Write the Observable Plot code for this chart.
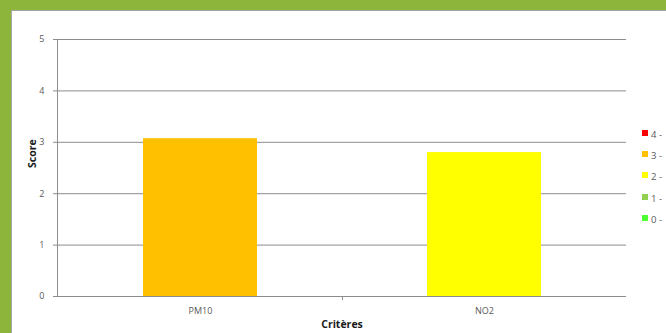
<!DOCTYPE html>
<html>
<head>
<meta charset="utf-8">
<script src="https://cdn.jsdelivr.net/npm/d3@7"></script>
<script src="https://cdn.jsdelivr.net/npm/@observablehq/plot@0.6"></script>
<style>
  html, body { margin: 0; padding: 0; }
  body { width: 666px; height: 333px; background: #8DB53C; position: relative; overflow: hidden; font-family: "Open Sans", "Liberation Sans", sans-serif; }
  #frame { position: absolute; left: 11px; top: 10px; width: 700px; height: 340px; background: #fff; border-left: 1px solid #a6a6a6; border-top: 1px solid #a6a6a6; }
  #chart { position: absolute; left: 0; top: 0; }
  #legend { position: absolute; left: 642px; top: 128px; font-size: 9.5px; color: #595959; }
  .item { height: 21.2px; display: flex; align-items: flex-start; white-space: nowrap; }
  .sw { width: 6px; height: 6px; margin-top: 2px; margin-right: 3px; }
</style>
</head>
<body>
<div id="frame"></div>
<div id="chart"></div>
<div id="legend"></div>
<script>
const categories = ["PM10", "NO2"];
const scores = [3.07, 2.80];
const yTicks = [0, 1, 2, 3, 4, 5];
const legendLabels = ["4 -", "3 -", "2 -", "1 -", "0 -"];
const legendLevels = [4, 3, 2, 1, 0];
const legendColors = ["#FF0000", "#FFC000", "#FFFF00", "#92D050", "#4CFF33"];

const data = categories.map((c, i) => ({ cat: c, score: scores[i], level: Math.floor(scores[i]) }));
const colorOf = lv => legendColors[legendLevels.indexOf(lv)];

const plot = Plot.plot({
  width: 666,
  height: 333,
  marginLeft: 57,
  marginRight: 40,
  marginTop: 39,
  marginBottom: 37,
  style: { background: "transparent", fontFamily: "'Open Sans', 'Liberation Sans', sans-serif", fontSize: "9px", color: "#595959" },
  x: { domain: categories, paddingInner: 0.6, paddingOuter: 0.3, label: null },
  y: { domain: [0, 5], ticks: yTicks, label: null },
  marks: [
    Plot.gridY(yTicks.filter(t => t > 0), { stroke: "#8c8c8c", strokeOpacity: 1, strokeWidth: 1 }),
    Plot.barY(data, { x: "cat", y: "score", fill: d => colorOf(d.level) }),
    Plot.frame({ anchor: "left", stroke: "#8c8c8c", strokeOpacity: 1 }),
    Plot.axisY({ ticks: yTicks, tickFormat: d3.format("d"), tickSize: 4, tickPadding: 9, stroke: "#8c8c8c", fill: "#595959", fontSize: 9, label: null }),
    Plot.axisX({ tickSize: 0, tickPadding: 11, fill: "#595959", fontSize: 9, label: null }),
    Plot.ruleY([0], { stroke: "#8c8c8c" }),
    Plot.ruleX([categories[0]], { x: d => d, y1: 0, y2: 0, dx: 142, insetBottom: -4, stroke: "#8c8c8c" }),
    Plot.text(["Score"], { frameAnchor: "left", dx: -25, rotate: -90, fontWeight: "bold", fontSize: 10.5, fill: "#1a1a1a" }),
    Plot.text(["Critères"], { frameAnchor: "bottom", dy: 31, fontWeight: "bold", fontSize: 10.5, fill: "#1a1a1a" })
  ]
});
document.getElementById("chart").appendChild(plot);

const leg = document.getElementById("legend");
legendLabels.forEach((l, i) => {
  const it = document.createElement("div");
  it.className = "item";
  const sw = document.createElement("div");
  sw.className = "sw";
  sw.style.background = legendColors[i];
  const tx = document.createElement("span");
  tx.textContent = l;
  it.appendChild(sw); it.appendChild(tx);
  leg.appendChild(it);
});
</script>
</body>
</html>
